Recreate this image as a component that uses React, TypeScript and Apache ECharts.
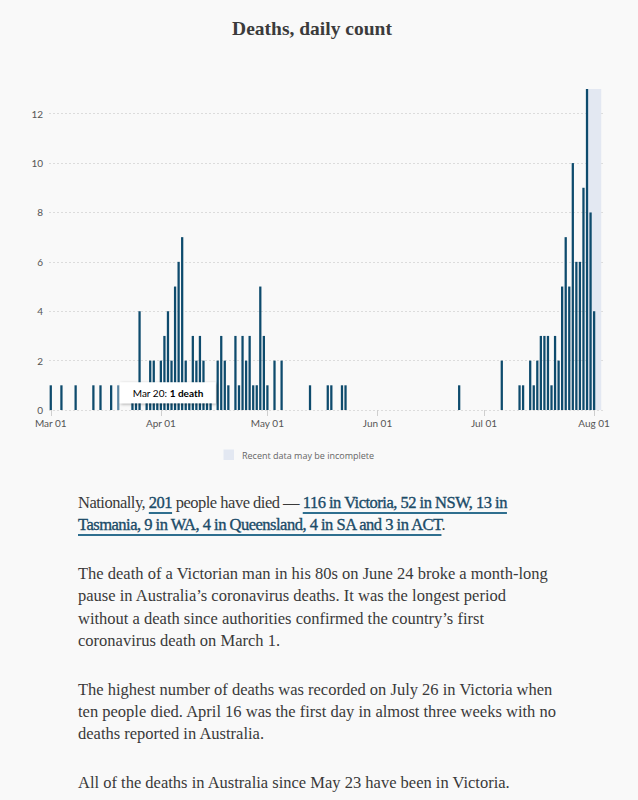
import React, { useEffect, useRef } from "react";
import * as echarts from "echarts";

const TITLE = "Deaths, daily count";
const FIRST_DAY = "2020-03-01";
const LAST_DAY = "2020-08-03";
const MONTH_NAMES = ["Jan", "Feb", "Mar", "Apr", "May", "Jun", "Jul", "Aug", "Sep", "Oct", "Nov", "Dec"];
const MONTH_TICKS = ["Mar 01", "Apr 01", "May 01", "Jun 01", "Jul 01", "Aug 01"];

const DEATH_DAYS = [
  "Mar 01", "Mar 04", "Mar 08", "Mar 13", "Mar 15", "Mar 18", "Mar 20",
  "Mar 24", "Mar 25", "Mar 26", "Mar 28", "Mar 29", "Mar 30", "Mar 31",
  "Apr 01", "Apr 02", "Apr 03", "Apr 04", "Apr 05", "Apr 06", "Apr 07", "Apr 08",
  "Apr 09", "Apr 10", "Apr 11", "Apr 12", "Apr 13", "Apr 14", "Apr 15",
  "Apr 17", "Apr 18", "Apr 19", "Apr 20", "Apr 22", "Apr 23", "Apr 24", "Apr 25",
  "Apr 26", "Apr 27", "Apr 28", "Apr 29", "Apr 30",
  "May 01", "May 03", "May 05", "May 13", "May 18", "May 19", "May 22", "May 23",
  "Jun 24",
  "Jul 06", "Jul 11", "Jul 12", "Jul 14", "Jul 15", "Jul 16", "Jul 17", "Jul 18",
  "Jul 19", "Jul 20", "Jul 21", "Jul 22", "Jul 23", "Jul 24", "Jul 25", "Jul 26",
  "Jul 27", "Jul 28", "Jul 29", "Jul 30", "Jul 31", "Aug 01",
];
const DEATH_COUNTS = [
  1, 1, 1, 1, 1, 1, 1,
  1, 1, 4, 1, 2, 2, 1,
  2, 3, 4, 2, 5, 6, 7, 2,
  1, 3, 2, 3, 2, 1, 1,
  2, 3, 2, 1, 3, 1, 3, 2,
  3, 1, 1, 5, 3,
  1, 2, 2, 1, 1, 1, 1, 1,
  1,
  2, 1, 1, 2, 1, 2, 3, 3,
  3, 1, 3, 2, 5, 7, 5, 10,
  6, 6, 9, 13, 8, 4,
];

const Y_MAX = 13;
const Y_INTERVAL = 2;
const HOVER_DAY = "Mar 20";
const HOVER_VALUE = 1;
const HOVER_TEXT = "Mar 20: ";
const HOVER_BOLD = "1 death";
const INCOMPLETE_FROM = "Jul 30";
const INCOMPLETE_TO = "Aug 03";
const LEGEND_TEXT = "Recent data may be incomplete";

function buildDays(first: string, last: string): string[] {
  const [y1, m1, d1] = first.split("-").map(Number);
  const [y2, m2, d2] = last.split("-").map(Number);
  const start = Date.UTC(y1, m1 - 1, d1);
  const end = Date.UTC(y2, m2 - 1, d2);
  const out: string[] = [];
  for (let t = start; t <= end; t += 86400000) {
    const d = new Date(t);
    out.push(MONTH_NAMES[d.getUTCMonth()] + " " + String(d.getUTCDate()).padStart(2, "0"));
  }
  return out;
}

const BAR = "#0e4b6d";
const BAR_HOVER = "#5f8aa7";
const SHADE = "#e3e8f2";
const SANS = "Lato, 'Open Sans', sans-serif";
const SERIF = "'Liberation Serif', serif";

export default function App() {
  const ref = useRef<HTMLDivElement>(null);

  useEffect(() => {
    document.body.style.margin = "0";
    document.body.style.background = "#f9f9f9";
    if (!ref.current) return;
    const chart = echarts.init(ref.current, undefined, { renderer: "svg" });
    const days = buildDays(FIRST_DAY, LAST_DAY);
    const countMap: Record<string, number> = {};
    DEATH_DAYS.forEach((d, i) => (countMap[d] = DEATH_COUNTS[i]));
    const data = days.map((d) => {
      const v = countMap[d] ?? 0;
      if (d === HOVER_DAY) return { value: v, itemStyle: { color: BAR_HOVER } };
      return v;
    });
    const isMonthTick = (_i: number, v: string) => MONTH_TICKS.includes(v);

    chart.setOption({
      animation: false,
      backgroundColor: "transparent",
      grid: { left: 49, right: 35, top: 89, bottom: 65, containLabel: false },
      xAxis: {
        type: "category",
        data: days,
        boundaryGap: true,
        axisLine: { show: false },
        axisTick: { show: true, interval: isMonthTick, alignWithLabel: true, length: 6, lineStyle: { color: "#cfcfcf" } },
        axisLabel: { interval: isMonthTick, margin: 8, fontFamily: SANS, fontSize: 10, color: "#555" },
        splitLine: { show: false },
      },
      yAxis: {
        type: "value",
        min: 0,
        max: Y_MAX,
        interval: Y_INTERVAL,
        axisLine: { show: false },
        axisTick: { show: false },
        axisLabel: { showMaxLabel: false, margin: 6, fontFamily: SANS, fontSize: 10, color: "#555" },
        splitLine: { show: true, showMaxLine: false, lineStyle: { color: "#dcdcdc", type: [2, 2], width: 1 } },
      },
      series: [
        {
          type: "bar",
          data,
          z: 3,
          barWidth: "64%",
          itemStyle: { color: BAR },
        },
      ],
    });

    const cs = { xAxisIndex: 0, yAxisIndex: 0 };
    const p = chart.convertToPixel(cs, [days.indexOf(HOVER_DAY), HOVER_VALUE]) as number[];
    const s0 = chart.convertToPixel(cs, [days.indexOf(INCOMPLETE_FROM), Y_MAX]) as number[];
    const s1 = chart.convertToPixel(cs, [days.indexOf(INCOMPLETE_TO), 0]) as number[];
    const bx = p[0] + 1.5;
    const by = p[1] - 3;
    chart.setOption({
      graphic: [
        {
          type: "rect",
          z: 1,
          silent: true,
          shape: { x: s0[0], y: s0[1], width: s1[0] - s0[0], height: s1[1] - s0[1] },
          style: { fill: SHADE },
        },
        {
          type: "text",
          x: 312,
          y: 28,
          z: 100,
          style: {
            text: TITLE,
            fontFamily: SERIF,
            fontSize: 19.5,
            fontWeight: "bold",
            fill: "#3b3b3b",
            textAlign: "center",
            verticalAlign: "middle",
          },
        },
        {
          type: "rect",
          z: 100,
          shape: { x: bx, y: by, width: 96, height: 21 },
          style: { fill: "#ffffff", shadowBlur: 3, shadowOffsetX: 1, shadowOffsetY: 1, shadowColor: "rgba(0,0,0,0.35)" },
        },
        {
          type: "text",
          z: 101,
          x: bx + 13,
          y: by + 11,
          style: {
            text: "{a|" + HOVER_TEXT + "}{b|" + HOVER_BOLD + "}",
            verticalAlign: "middle",
            rich: {
              a: { fontFamily: SANS, fontSize: 10, color: "#444" },
              b: { fontFamily: SANS, fontSize: 10, fontWeight: "bold", color: "#222" },
            },
          },
        },
        {
          type: "rect",
          z: 100,
          shape: { x: 223.5, y: 449.5, width: 10.5, height: 10.5 },
          style: { fill: SHADE },
        },
        {
          type: "text",
          z: 100,
          x: 242,
          y: 455,
          style: { text: LEGEND_TEXT, fontFamily: "'Open Sans', sans-serif", fontSize: 9, fill: "#666", verticalAlign: "middle" },
        },
      ],
    });

    return () => chart.dispose();
  }, []);

  const link: React.CSSProperties = {
    color: "#1b4b68",
    WebkitTextStroke: "0.35px #1b4b68",
    textDecoration: "underline",
    textDecorationColor: "#2f6f8f",
    textDecorationThickness: "2px",
    textUnderlineOffset: "4px",
  } as React.CSSProperties;
  const para: React.CSSProperties = { margin: "0 0 26.5px 0", whiteSpace: "nowrap" };

  return (
    <div style={{ width: 638, background: "#f9f9f9" }}>
      <div ref={ref} style={{ width: 638, height: 475 }} />
      <div
        style={{
          paddingLeft: 78,
          marginTop: 17,
          fontFamily: SERIF,
          fontSize: 16.5,
          lineHeight: "22.3px",
          color: "#3a3a3a",
        }}
      >
        <p style={{ ...para, letterSpacing: "-0.5px" }}>
          Nationally, <span style={link}>201</span> people have died —{" "}
          <span style={link}>116 in Victoria, 52 in NSW, 13 in</span>
          <br />
          <span style={link}>Tasmania, 9 in WA, 4 in Queensland, 4 in SA and 3 in ACT</span>.
        </p>
        <p style={para}>
          The death of a Victorian man in his 80s on June 24 broke a month-long
          <br />
          pause in Australia’s coronavirus deaths. It was the longest period
          <br />
          without a death since authorities confirmed the country’s first
          <br />
          coronavirus death on March 1.
        </p>
        <p style={para}>
          The highest number of deaths was recorded on July 26 in Victoria when
          <br />
          ten people died. April 16 was the first day in almost three weeks with no
          <br />
          deaths reported in Australia.
        </p>
        <p style={para}>All of the deaths in Australia since May 23 have been in Victoria.</p>
      </div>
    </div>
  );
}
